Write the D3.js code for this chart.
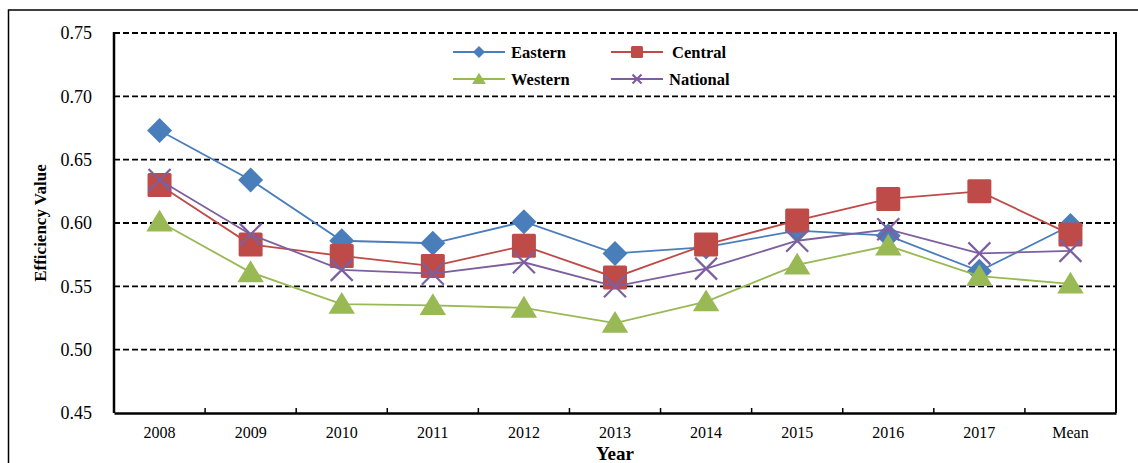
<!DOCTYPE html>
<html>
<head>
<meta charset="utf-8">
<script src="https://cdn.jsdelivr.net/npm/d3@7"></script>
<style>
  html, body { margin: 0; padding: 0; background: #fff; }
  svg text { font-family: "Liberation Serif", "DejaVu Serif", "Times New Roman", serif !important; }
</style>
</head>
<body>
<svg id="chart" width="1138" height="463"></svg>
<script>
const categories = ["2008","2009","2010","2011","2012","2013","2014","2015","2016","2017","Mean"];
const eastern  = [0.673,0.634,0.586,0.584,0.601,0.576,0.581,0.594,0.590,0.562,0.598];
const central  = [0.630,0.583,0.574,0.566,0.582,0.557,0.583,0.602,0.619,0.625,0.591];
const western  = [0.601,0.561,0.536,0.535,0.533,0.521,0.538,0.567,0.582,0.558,0.552];
const national = [0.634,0.591,0.563,0.560,0.569,0.550,0.564,0.586,0.595,0.576,0.578];
const yTicks = [0.45,0.50,0.55,0.60,0.65,0.70,0.75];
const seriesNames = ["Eastern","Central","Western","National"];

const series = [
  {name: seriesNames[0], values: eastern,  color: "#4a7ebb", marker: "diamond"},
  {name: seriesNames[1], values: central,  color: "#be4b48", marker: "square"},
  {name: seriesNames[2], values: western,  color: "#98b954", marker: "triangle"},
  {name: seriesNames[3], values: national, color: "#7d5fa0", marker: "x"}
];

const svg = d3.select("#chart");
const m = {left: 114, top: 33, right: 1116, bottom: 413};

// outer frame
svg.append("rect").attr("x", 8.5).attr("y", 10).attr("width", 1140).attr("height", 470)
  .attr("fill", "none").attr("stroke", "#000").attr("stroke-width", 1.5);

const x = d3.scaleBand().domain(categories).range([m.left, m.right]);
const y = d3.scaleLinear().domain([0.45, 0.75]).range([m.bottom, m.top]);

// gridlines
svg.append("g").selectAll("line").data(yTicks.filter(v => v > 0.45))
  .join("line")
  .attr("x1", m.left).attr("x2", m.right)
  .attr("y1", d => y(d)).attr("y2", d => y(d))
  .attr("stroke", "#000").attr("stroke-width", 1.8).attr("stroke-dasharray", "6,3");

// plot border left/right
svg.append("line").attr("x1", m.left).attr("x2", m.left).attr("y1", m.top - 1).attr("y2", m.bottom)
  .attr("stroke", "#000").attr("stroke-width", 2.5);
svg.append("line").attr("x1", m.right).attr("x2", m.right).attr("y1", m.top - 1).attr("y2", m.bottom)
  .attr("stroke", "#000").attr("stroke-width", 2);

// x axis
const xAxis = d3.axisBottom(x).tickSize(0).tickPadding(14);
const gx = svg.append("g").attr("transform", `translate(0,${m.bottom})`).call(xAxis);
gx.select(".domain").attr("stroke-width", 2.5);
gx.selectAll("text").attr("font-size", 16).attr("fill", "#000");
// inside tick marks at band boundaries
const bounds = categories.slice(1).map(c => x(c));
svg.append("g").selectAll("line").data(bounds).join("line")
  .attr("x1", d => d).attr("x2", d => d)
  .attr("y1", m.bottom).attr("y2", m.bottom - 5)
  .attr("stroke", "#000").attr("stroke-width", 1.5);

// y axis labels
const yAxis = d3.axisLeft(y).tickValues(yTicks).tickFormat(d3.format(".2f")).tickSize(0).tickPadding(22);
const gy = svg.append("g").attr("transform", `translate(${m.left},0)`).call(yAxis);
gy.select(".domain").remove();
gy.selectAll("text").attr("font-size", 18).attr("fill", "#000");

// axis titles
svg.append("text").attr("transform", `translate(46,${(m.top + m.bottom) / 2}) rotate(-90)`)
  .attr("text-anchor", "middle").attr("font-weight", "bold").attr("font-size", 17)
  .text("Efficiency Value");
svg.append("text").attr("x", (m.left + m.right) / 2).attr("y", 460)
  .attr("text-anchor", "middle").attr("font-weight", "bold").attr("font-size", 19)
  .text("Year");

function drawMarker(g, type, color, size) {
  const s = size;
  if (type === "diamond") {
    g.append("path").attr("d", `M0,${-s}L${s},0L0,${s}L${-s},0Z`).attr("fill", color);
  } else if (type === "square") {
    g.append("rect").attr("x", -s).attr("y", -s).attr("width", 2 * s).attr("height", 2 * s)
      .attr("rx", 1.5).attr("fill", color);
  } else if (type === "triangle") {
    g.append("path").attr("d", `M0,${-s * 1.05}L${s * 1.15},${s * 0.85}L${-s * 1.15},${s * 0.85}Z`).attr("fill", color);
  } else if (type === "x") {
    g.append("path").attr("d", `M${-s},${-s}L${s},${s}M${-s},${s}L${s},${-s}`)
      .attr("stroke", color).attr("stroke-width", 2.2).attr("fill", "none");
  }
}

const line = d3.line().x((d, i) => x(categories[i]) + x.bandwidth() / 2).y(d => y(d));
const sizes = {diamond: 12.5, square: 12, triangle: 11.5, x: 11};

series.forEach(s => {
  const g = svg.append("g");
  g.append("path").attr("d", line(s.values)).attr("fill", "none")
    .attr("stroke", s.color).attr("stroke-width", 1.8);
  s.values.forEach((v, i) => {
    const mg = g.append("g").attr("transform", `translate(${x(categories[i]) + x.bandwidth() / 2},${y(v)})`);
    drawMarker(mg, s.marker, s.color, sizes[s.marker]);
  });
});

// legend
const legendPos = [
  {x: 453, y: 52}, {x: 611, y: 52}, {x: 453, y: 79}, {x: 611, y: 79}
];
const legendSizes = {diamond: 6, square: 6, triangle: 6, x: 4.5};
series.forEach((s, i) => {
  const p = legendPos[i];
  const g = svg.append("g").attr("transform", `translate(${p.x},${p.y})`);
  g.append("line").attr("x1", 0).attr("x2", 52).attr("y1", 0).attr("y2", 0)
    .attr("stroke", s.color).attr("stroke-width", 2);
  const mg = g.append("g").attr("transform", "translate(26,0)");
  drawMarker(mg, s.marker, s.color, legendSizes[s.marker]);
  g.append("text").attr("x", s.name === "Central" ? 61 : 58).attr("y", 5.5)
    .attr("font-weight", "bold").attr("font-size", 16.5).text(s.name);
});
</script>
</body>
</html>
